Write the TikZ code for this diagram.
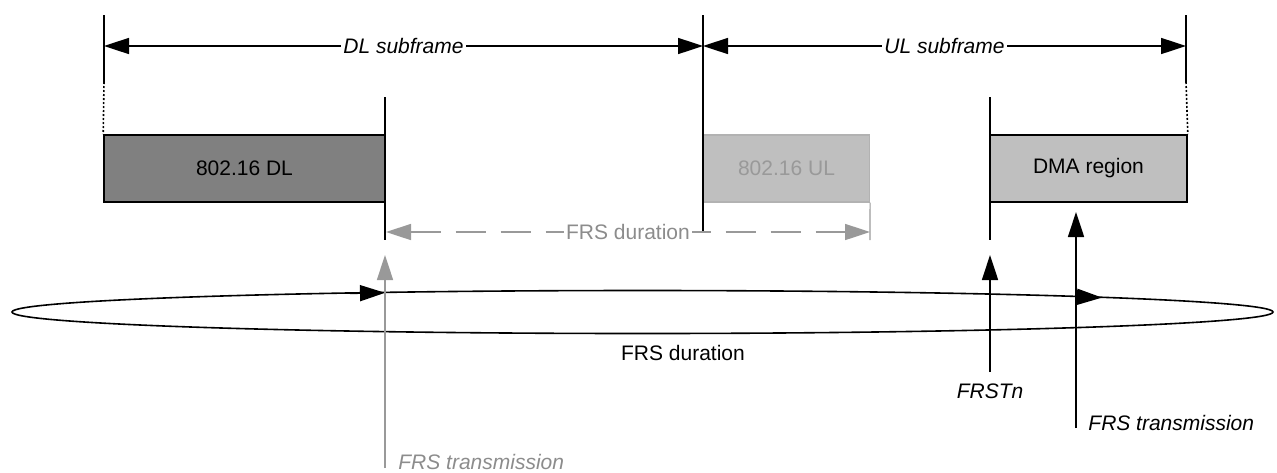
\documentclass[tikz,border=0pt]{standalone}
\usepackage{fontspec}
\setmainfont{Liberation Sans}
\usetikzlibrary{arrows.meta}

\begin{document}
\begin{tikzpicture}[
    x=0.5pt, y=-0.5pt,
    >={Triangle[length=12.5pt,width=8pt]},
    font=\fontsize{10.5}{12}\selectfont,
    frame/.style={
		rectangle,
		draw=black,
		line width=0.8pt,
		minimum height=33.5pt,
		inner sep=0pt
	},
	tick/.style={
		line width=0.8pt
	},
	dimline/.style={
		line width=0.8pt,
		<->
	},
	lbl/.style={
		fill=white,
		inner sep=1pt
	},
	ital/.style={
		font=\fontsize{10.5}{12}\selectfont\itshape
	},
	faint/.style={
		draw=black!40,
		text=black!45
	}
  ]
    % frame of the picture
  \useasboundingbox (0,0) rectangle (1277,472);

    % the three regions
  \node [frame, fill=black!50, minimum width=140.5pt] (dl) at (244.5,168.5) {802.16 DL};
  \node [frame, fill=black!25, draw=black!30, text=black!40, line width=0.6pt, minimum width=83pt] (ul) at (786.5,168.5) {802.16 UL};
  \node [frame, fill=black!25, minimum width=98.5pt] (dma) at (1088.5,168.5) {DMA region};

    % subframe boundaries
  \coordinate (lefttop) at (104,15);
  \coordinate (leftdot) at (104,82);
  \coordinate (midtop) at (703,15);
  \coordinate (midbot) at (703,233);
  \coordinate (righttop) at (1186,15);
  \coordinate (rightdot) at (1186,82);
  \coordinate (dltop) at (385,97);
  \coordinate (dlbot) at (385,240);
  \coordinate (dmatop) at (990,97);
  \coordinate (dmabot) at (990,240);
  \coordinate (ulbot) at (870,240);

  \draw [tick] (lefttop) -- (leftdot);
  \draw [tick, dash pattern=on 1pt off 1pt] (leftdot) -- (dl.north west);
  \draw [tick] (righttop) -- (rightdot);
  \draw [tick, dash pattern=on 1pt off 1pt] (rightdot) -- (dma.north east);
  \draw [tick] (midtop) -- (midbot);
  \draw [tick] (dltop) -- (dlbot);
  \draw [tick] (dmatop) -- (dmabot);
  \draw [faint, line width=0.6pt] (ul.south east) -- (ulbot);

    % subframe lengths
  \coordinate (dla) at (104,46);
  \coordinate (dlb) at (703,46);
  \coordinate (ulb) at (1186,46);
  \draw [dimline] (dla) -- node [lbl, ital] {DL subframe} (dlb);
  \draw [dimline] (dlb) -- node [lbl, ital] {UL subframe} (ulb);

    % FRS duration inside the frame
  \coordinate (dura) at (386,232);
  \coordinate (durb) at (870,232);
  \draw [faint, line width=0.8pt, dash pattern=on 15pt off 7.5pt, <->] (dura) -- node [lbl] {FRS duration} (durb);

    % FRS duration loop
  \draw [line width=0.8pt] (642.5,312) ellipse (315.25pt and 10.75pt);
  \coordinate (loopa) at (350,293.3);
  \coordinate (loopb) at (385,292.8);
  \coordinate (loopc) at (1076,296.75);
  \coordinate (loopd) at (1102,297.6);
  \draw [->, line width=0.8pt] (loopa) -- (loopb);
  \draw [->, line width=0.8pt] (loopc) -- (loopd);
  \node (loopname) at (683,353) {FRS duration};

    % transmissions
  \coordinate (txa) at (385,468);
  \coordinate (txatip) at (385,255);
  \coordinate (frstn) at (990,372);
  \coordinate (frstntip) at (990,255);
  \coordinate (txb) at (1076,428);
  \coordinate (txbtip) at (1076,212);

  \draw [faint, line width=0.8pt, ->] (txa) -- (txatip);
  \draw [line width=0.8pt, ->] (frstn) -- (frstntip);
  \draw [line width=0.8pt, ->] (txb) -- (txbtip);

  \node [ital, text=black!45, anchor=west, inner sep=0pt] (txaname) at (398,462) {FRS transmission};
  \node [ital] (frstnname) at (990,391) {FRSTn};
  \node [ital, anchor=west, inner sep=0pt] (txbname) at (1088,423) {FRS transmission};

\end{tikzpicture}
\end{document}
